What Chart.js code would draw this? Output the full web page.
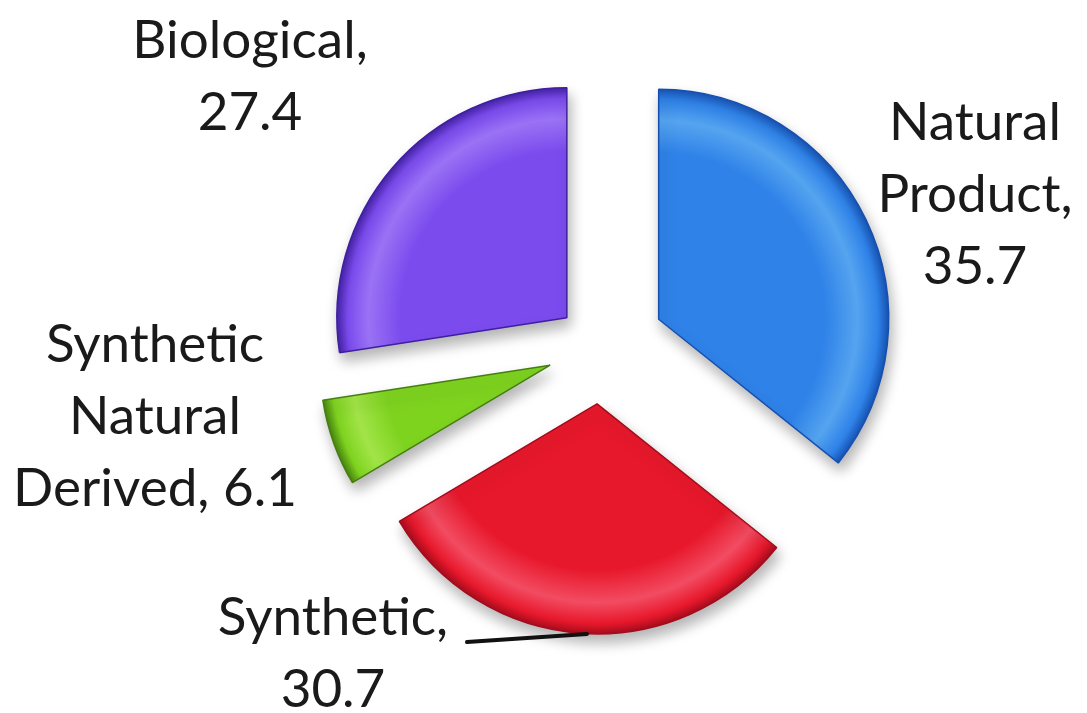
<!DOCTYPE html>
<html>
<head>
<meta charset="utf-8">
<script src="https://cdn.jsdelivr.net/npm/chart.js@4"></script>
<style>
  html, body { margin: 0; padding: 0; background: #fff; }
  #wrap { width: 1087px; height: 713px; }
</style>
</head>
<body>
<div id="wrap"><canvas id="grafico"></canvas></div>
<script>
// ================= DADOS =================
const categorias = ['Natural Product', 'Synthetic', 'Synthetic Natural Derived', 'Biological'];
const valores = [35.7, 30.7, 6.1, 27.4];

// ================= ESTILO =================
const cores = ['#2f82e8', '#e8182c', '#7ed31f', '#7b4bee'];
const coresClaras = ['#55a4f0', '#f24c62', '#a2e448', '#9a72f4'];
const coresEscuras = ['#1550b0', '#a20c1c', '#457f10', '#3f1fa0'];
const explodir = [64, 57, 54, 45];          // deslocamento de cada fatia (px)
const larguraRotulo = [240, 265, 315, 265];  // largura maxima do texto antes de quebrar
const posRotulo = [[975, 140], [333, 635], [155, 362], [250, 58]]; // centro x, 1a linha de base
const alturaLinha = 72;
const fonteRotulo = '53px Lato, "Open Sans", sans-serif';

function gradiente(c) {
  const area = c.chart.chartArea;
  const i = c.dataIndex;
  if (!area || i === undefined) return cores[i] || '#888';
  const cx = (area.left + area.right) / 2;
  const cy = (area.top + area.bottom) / 2;
  const g = c.chart.ctx.createRadialGradient(cx, cy, 0, cx, cy, 231);
  g.addColorStop(0, cores[i]);
  g.addColorStop(0.72, cores[i]);
  g.addColorStop(0.86, coresClaras[i]);
  g.addColorStop(0.95, cores[i]);
  g.addColorStop(1, coresEscuras[i]);
  return g;
}

// fatias explodidas com sombra
const pluginExplodir = {
  id: 'explodir',
  beforeDatasetDraw(chart, args) {
    const ctx = chart.ctx;
    args.meta.data.forEach((arc, i) => {
      const meio = (arc.startAngle + arc.endAngle) / 2;
      ctx.save();
      ctx.translate(Math.cos(meio) * explodir[i], Math.sin(meio) * explodir[i]);
      ctx.shadowColor = 'rgba(0,0,0,0.3)';
      ctx.shadowBlur = 14;
      ctx.shadowOffsetX = 3;
      ctx.shadowOffsetY = 8;
      arc.draw(ctx, chart.chartArea);
      ctx.restore();
    });
    return false;
  }
};

// rotulos "categoria, valor" com quebra de linha
function quebrar(ctx, texto, largura) {
  const palavras = texto.split(' ');
  const linhas = [];
  let atual = '';
  palavras.forEach(p => {
    const teste = atual ? atual + ' ' + p : p;
    if (atual && ctx.measureText(teste).width > largura) {
      linhas.push(atual);
      atual = p;
    } else {
      atual = teste;
    }
  });
  if (atual) linhas.push(atual);
  return linhas;
}

const pluginRotulos = {
  id: 'rotulos',
  afterDraw(chart) {
    const ctx = chart.ctx;
    ctx.save();
    ctx.font = fonteRotulo;
    ctx.fillStyle = '#1a1a1a';
    ctx.textAlign = 'center';
    ctx.textBaseline = 'alphabetic';
    categorias.forEach((cat, i) => {
      const linhas = quebrar(ctx, `${cat}, ${valores[i]}`, larguraRotulo[i]);
      linhas.forEach((l, k) => {
        ctx.fillText(l, posRotulo[i][0], posRotulo[i][1] + k * alturaLinha);
      });
    });
    // linha guia do "Synthetic"
    ctx.strokeStyle = '#111';
    ctx.lineWidth = 4;
    ctx.lineCap = 'round';
    ctx.beginPath();
    ctx.moveTo(467, 642);
    ctx.lineTo(587, 634);
    ctx.stroke();
    ctx.restore();
  }
};

const ctx = document.getElementById('grafico').getContext('2d');
new Chart(ctx, {
  type: 'pie',
  data: {
    labels: categorias,
    datasets: [{
      data: valores,
      backgroundColor: gradiente,
      borderColor: coresEscuras,
      borderWidth: 1.5
    }]
  },
  options: {
    responsive: true,
    maintainAspectRatio: false,
    animation: false,
    radius: 230,
    layout: { padding: { left: 115, right: 0, top: 0, bottom: 19 } },
    plugins: {
      legend: { display: false },
      tooltip: { enabled: false }
    }
  },
  plugins: [pluginExplodir, pluginRotulos]
});
</script>
</body>
</html>
